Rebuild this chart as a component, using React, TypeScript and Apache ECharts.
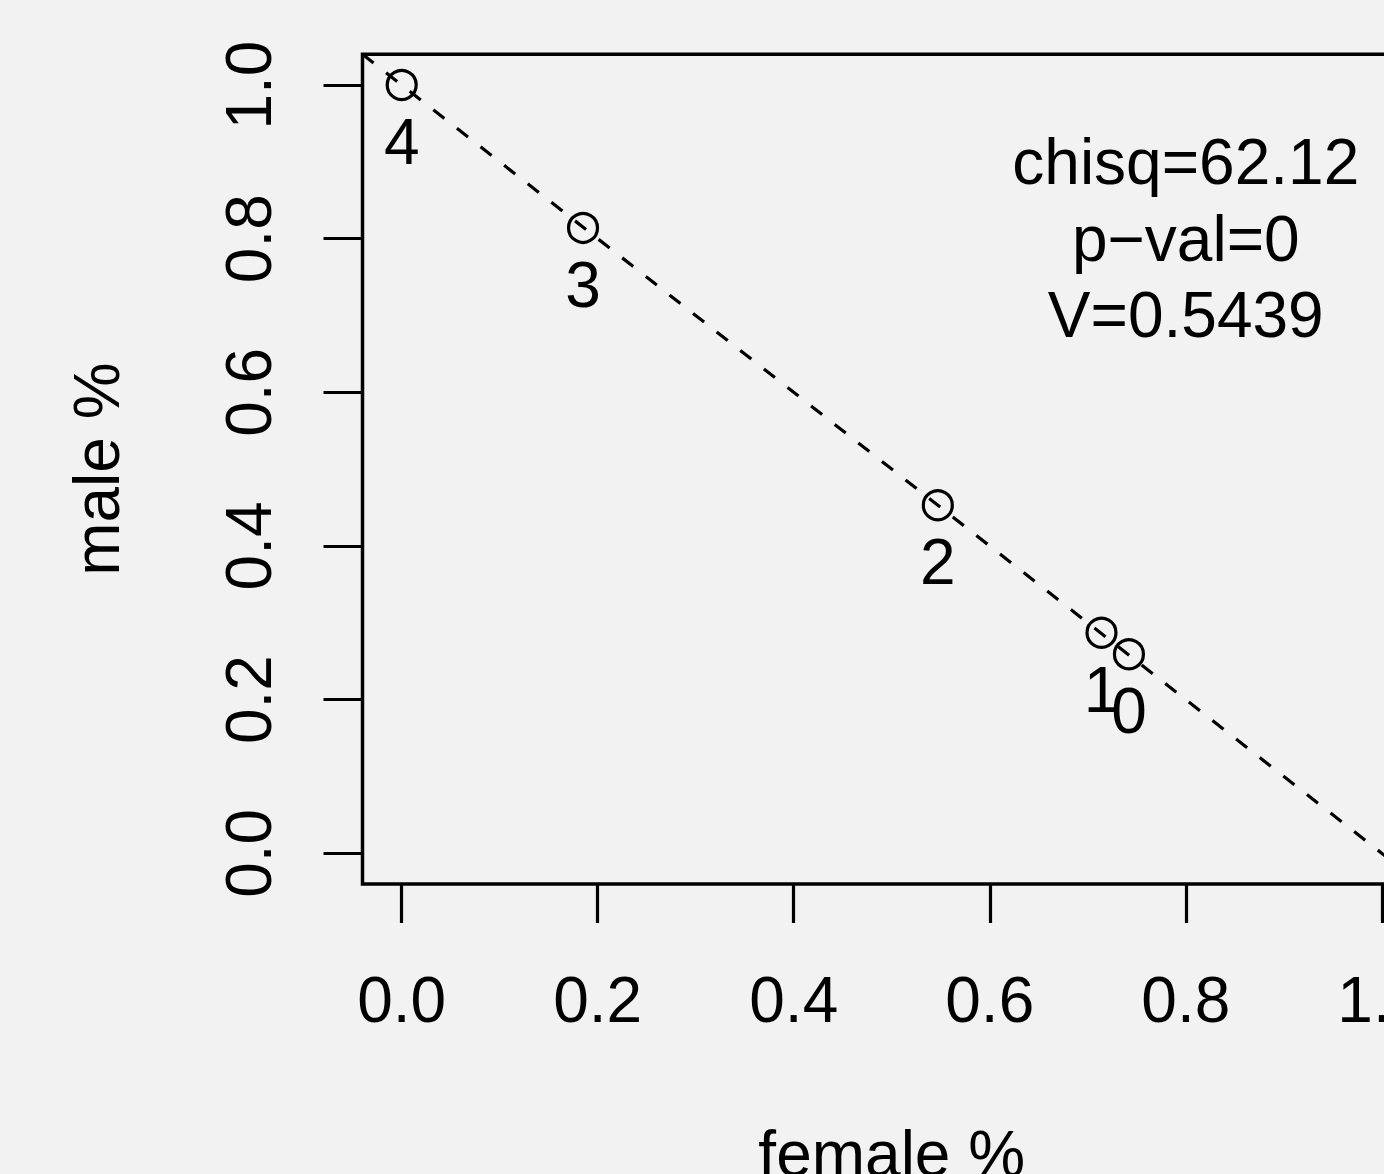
import React, { useEffect, useRef } from "react";
import * as echarts from "echarts";

const categories = ["4", "3", "2", "1", "0"];
const femalePct = [0.0, 0.185, 0.547, 0.714, 0.742];
const malePct = [1.0, 0.814, 0.453, 0.287, 0.259];
const tickValues = [0, 0.2, 0.4, 0.6, 0.8, 1.0];
const ablineIntercept = 1;
const ablineSlope = -1;
const axisMin = -0.04;
const axisMax = 1.04;
const statLines = ["chisq=62.12", "p\u2212val=0", "V=0.5439"];
const statPos = [0.8, 0.8];

const FONT = "'Liberation Sans', Arial, Helvetica, sans-serif";

export default function App() {
  const ref = useRef<HTMLDivElement>(null);
  useEffect(() => {
    if (!ref.current) return;
    const chart = echarts.init(ref.current, null, { renderer: "svg" });
    const points = femalePct.map((x, i) => [x, malePct[i], categories[i]]);
    const lineData = [axisMin, axisMax].map((x) => [x, ablineIntercept + ablineSlope * x]);
    chart.setOption({
      animation: false,
      backgroundColor: "#f2f2f2",
      textStyle: { fontFamily: FONT },
      grid: {
        left: 362.5,
        top: 54.3,
        width: 1058.5,
        height: 829.7,
        outerBoundsMode: "none",
        containLabel: false,
        show: true,
        borderColor: "#000",
        borderWidth: 3.5,
        backgroundColor: "transparent",
      },
      xAxis: {
        type: "value",
        min: axisMin,
        max: axisMax,
        axisLine: { show: false, onZero: false },
        splitLine: { show: false },
        axisTick: { show: true, inside: false, customValues: tickValues, length: 39, lineStyle: { color: "#000", width: 3.2 } },
        axisLabel: {
          customValues: tickValues,
          formatter: (v: number) => v.toFixed(1),
          fontSize: 64,
          color: "#000",
          fontFamily: FONT,
          margin: 84,
        },
        name: "female %",
        nameLocation: "middle",
        nameGap: 238,
        nameTextStyle: { fontSize: 64, color: "#000", fontFamily: FONT },
      },
      yAxis: {
        type: "value",
        min: axisMin,
        max: axisMax,
        axisLine: { show: false, onZero: false },
        splitLine: { show: false },
        axisTick: { show: true, inside: false, customValues: tickValues, length: 39, lineStyle: { color: "#000", width: 3.2 } },
        axisLabel: {
          customValues: tickValues,
          formatter: (v: number) => v.toFixed(1),
          fontSize: 64,
          color: "#000",
          fontFamily: FONT,
          rotate: 90,
          margin: 82,
        },
        name: "male %",
        nameLocation: "middle",
        nameGap: 234,
        nameTextStyle: { fontSize: 64, color: "#000", fontFamily: FONT },
      },
      series: [
        {
          type: "scatter",
          data: points,
          symbol: "circle",
          symbolSize: 29,
          itemStyle: { color: "rgba(0,0,0,0)", borderColor: "#000", borderWidth: 3.2, opacity: 1 },
          label: {
            show: true,
            position: "bottom",
            distance: 9,
            formatter: (p: any) => p.data[2],
            fontSize: 64,
            color: "#000",
            opacity: 1,
            fontFamily: FONT,
          },
          z: 2,
        },
        {
          type: "line",
          data: lineData,
          symbol: "none",
          clip: true,
          lineStyle: { color: "#000", width: 3.2, type: [14, 16] },
          z: 3,
        },
        {
          type: "scatter",
          data: [statPos],
          symbolSize: 0,
          itemStyle: { color: "rgba(0,0,0,0)", opacity: 1 },
          label: {
            show: true,
            position: "inside",
            formatter: statLines.join("\n"),
            fontSize: 64,
            lineHeight: 76.5,
            align: "center",
            color: "#000",
            opacity: 1,
            fontFamily: FONT,
          },
        },
      ],
    });
    return () => chart.dispose();
  }, []);
  return (
    <div
      ref={ref}
      style={{ position: "absolute", left: 0, top: 0, width: 1384, height: 1174 }}
    />
  );
}
